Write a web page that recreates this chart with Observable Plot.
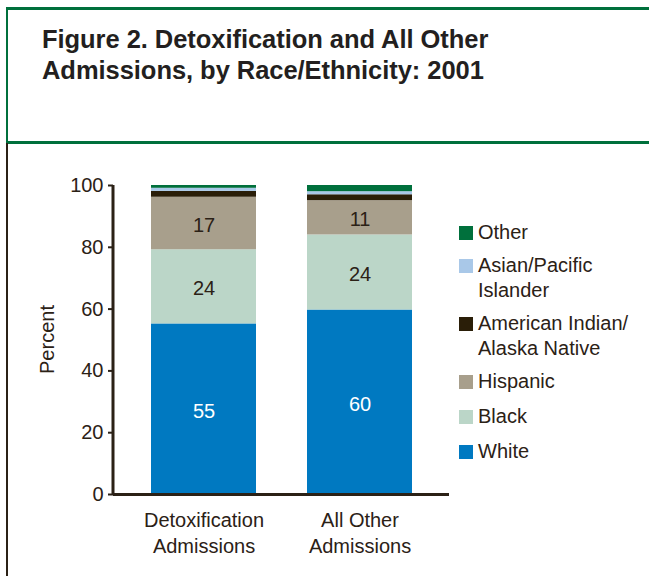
<!DOCTYPE html>
<html>
<head>
<meta charset="utf-8">
<script src="https://cdn.jsdelivr.net/npm/d3@7"></script>
<script src="https://cdn.jsdelivr.net/npm/@observablehq/plot@0.6"></script>
<style>
  html, body { margin: 0; padding: 0; background: #fff; }
  #page { position: relative; width: 649px; height: 576px; overflow: hidden; font-family: "Liberation Sans", Arial, sans-serif; color: #2b2116; }
  #header { position: absolute; left: 6px; top: 7px; width: 700px; height: 131px; border-top: 3px solid #00703c; border-left: 2px solid #00703c; border-bottom: 3px solid #00703c; }
  #title { position: absolute; left: 42px; top: 24px; font-size: 25.5px; font-weight: bold; line-height: 31px; color: #231f20; letter-spacing: -0.05px; white-space: nowrap; }
  #leftline { position: absolute; left: 6px; top: 143px; width: 2px; height: 440px; background: #2b2116; }
  #chart { position: absolute; left: 0; top: 150px; }
  #legend { position: absolute; left: 459px; top: 220px; font-size: 20px; line-height: 25px; }
  .item { position: relative; padding-left: 19px; margin-bottom: 8px; }
  .item.wide { margin-bottom: 10px; }
  .sw { position: absolute; left: 0; top: 6px; width: 14px; height: 14px; }
</style>
</head>
<body>
<div id="page">
  <div id="header"></div>
  <div id="title">Figure 2. Detoxification and All Other<br>Admissions, by Race/Ethnicity: 2001</div>
  <div id="leftline"></div>
  <div id="chart"></div>
  <div id="legend"></div>
</div>
<script>
const categories = ["Detoxification\nAdmissions", "All Other\nAdmissions"];
const races = ["White", "Black", "Hispanic", "American Indian/Alaska Native", "Asian/Pacific Islander", "Other"];
const legendLabels = ["Other", "Asian/Pacific\nIslander", "American Indian/\nAlaska Native", "Hispanic", "Black", "White"];
const raceColors = ["#0079c1", "#bbd6c8", "#a89f8c", "#2a1e08", "#a9c8e8", "#00703c"];
const detoxValues = [55.2, 24.0, 17.0, 1.9, 1.0, 0.9];
const otherValues = [59.7, 24.3, 11.1, 1.9, 1.0, 2.0];
const labeledRaces = ["White", "Black", "Hispanic"];
const yTicks = [0, 20, 40, 60, 80, 100];

const data = [];
races.forEach((r, i) => {
  data.push({cat: categories[0], race: r, value: detoxValues[i]});
  data.push({cat: categories[1], race: r, value: otherValues[i]});
});

const stackOpts = {x: "cat", y: "value", z: "race", order: races};

const chart = Plot.plot({
  width: 450,
  height: 414,
  marginLeft: 113,
  marginRight: 1,
  marginTop: 35,
  marginBottom: 70,
  style: {fontFamily: "Liberation Sans, Arial, sans-serif", fontSize: "20px", color: "#2b2116", background: "transparent"},
  x: {domain: categories, padding: 0.33, paddingOuter: 0.24, label: null},
  y: {domain: [0, 100], label: null},
  color: {domain: races, range: raceColors},
  marks: [
    Plot.barY(data, Plot.stackY({...stackOpts, fill: "race"})),
    Plot.text(data, Plot.stackY({...stackOpts, text: d => (labeledRaces.includes(d.race) && d.race !== "White") ? String(Math.round(d.value)) : "", fill: "#2b2116", fontSize: 20, dy: 2})),
    Plot.text(data, Plot.stackY({...stackOpts, text: d => d.race === "White" ? String(Math.round(d.value)) : "", fill: "white", fontSize: 20, dy: 2})),
    Plot.axisY({ticks: yTicks, tickSize: 5, tickPadding: 5, tickFormat: d => String(d), fontSize: 20, stroke: "#2b2116", strokeWidth: 2, strokeOpacity: 1, label: null}),
    Plot.axisX({tickSize: 0, tickPadding: 14, fontSize: 20, lineHeight: 1.3, label: null}),
    Plot.ruleY([0], {stroke: "#2b2116", strokeWidth: 3})
  ]
});
document.getElementById("chart").appendChild(chart);

// y axis line and Percent label, positioned with the Plot's own y scale
const svg = d3.select(chart);
const yScale = chart.scale("y");
svg.append("line")
  .attr("x1", 113).attr("x2", 113)
  .attr("y1", yScale.apply(100)).attr("y2", yScale.apply(0))
  .attr("stroke", "#2b2116").attr("stroke-width", 3);
svg.append("text")
  .attr("transform", `translate(54,${(yScale.apply(0) + yScale.apply(100)) / 2}) rotate(-90)`)
  .attr("text-anchor", "middle")
  .attr("fill", "#2b2116")
  .style("font-size", "20px")
  .text("Percent");

const legend = d3.select("#legend");
legendLabels.forEach((lab) => {
  const raceName = lab.replace("\n", lab.includes("/\n") ? "" : " ");
  const idx = races.indexOf(raceName);
  const item = legend.append("div").attr("class", "item" + (raceName === "Hispanic" || raceName === "Black" ? " wide" : ""));
  item.append("div").attr("class", "sw").style("background", raceColors[idx]);
  item.append("div").html(lab.replace("\n", "<br>"));
});
</script>
</body>
</html>
